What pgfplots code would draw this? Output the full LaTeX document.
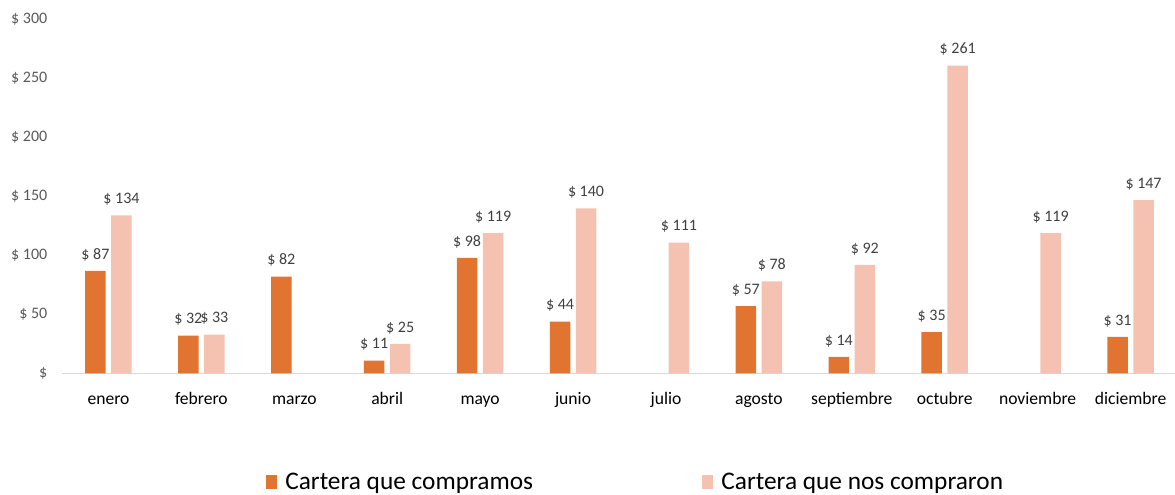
\documentclass[border=0pt]{standalone}
\usepackage{pgfplots}
\pgfplotsset{compat=1.18}
\usepackage{fontspec}
\setmainfont{Carlito}
\definecolor{corange}{HTML}{E07430}
\definecolor{cpink}{HTML}{F5C2B2}
\definecolor{tickgray}{HTML}{595959}
\definecolor{labgray}{HTML}{404040}
\definecolor{axgray}{HTML}{D9D9D9}
\begin{document}
\begin{tikzpicture}
\useasboundingbox (-46.5pt,-91.125pt) rectangle (834.75pt,280.125pt);
\begin{axis}[
  at={(0,0)}, anchor=south west,
  scale only axis,
  width=836.25pt, height=265.5pt,
  xmin=-0.5, xmax=11.5, ymin=0, ymax=300,
  ybar=4.1pt, bar width=15.4pt,
  axis x line*=bottom, axis y line*=left,
  x axis line style={draw=axgray, line width=0.9pt, -},
  y axis line style={draw=none},
  major tick length=0pt,
  xtick={0,...,11},
  xticklabels={enero,febrero,marzo,abril,mayo,junio,julio,agosto,septiembre,octubre,noviembre,diciembre},
  ytick={0,50,100,150,200,250,300},
  yticklabels={\$,\$ 50,\$ 100,\$ 150,\$ 200,\$ 250,\$ 300},
  xticklabel style={font=\fontsize{13.2}{15}\selectfont, text=black, anchor=base, yshift=-23.6pt},
  yticklabel style={font=\fontsize{12}{14}\selectfont, text=tickgray, xshift=-7.5pt},
  nodes near coords={\$ \pgfmathprintnumber{\pgfplotspointmeta}},
  /pgf/number format/assume math mode=true,
  every node near coord/.append style={font=\fontsize{12}{14}\selectfont, text=labgray, yshift=4pt},
  legend style={draw=none, fill=none, at={(0.5148,-0.3065)}, anchor=center,
    legend columns=2, font=\fontsize{19}{22}\selectfont,
    /tikz/every odd column/.append style={column sep=4pt},
    /tikz/every even column/.append style={column sep=125pt}},
  legend image code/.code={\fill[#1] (0pt,-5.25pt) rectangle (8.25pt,5.25pt);},
]
\addplot[fill=corange, draw=none] coordinates {
(0,87) (1,32) (2,82) (3,11) (4,98) (5,44) (7,57) (8,14) (9,35) (11,31)};
\addplot[fill=cpink, draw=none] coordinates {
(0,134) (1,33) (3,25) (4,119) (5,140) (6,111) (7,78) (8,92) (9,261) (10,119) (11,147)};
\legend{Cartera que compramos, Cartera que nos compraron}
\end{axis}
\end{tikzpicture}
\end{document}
